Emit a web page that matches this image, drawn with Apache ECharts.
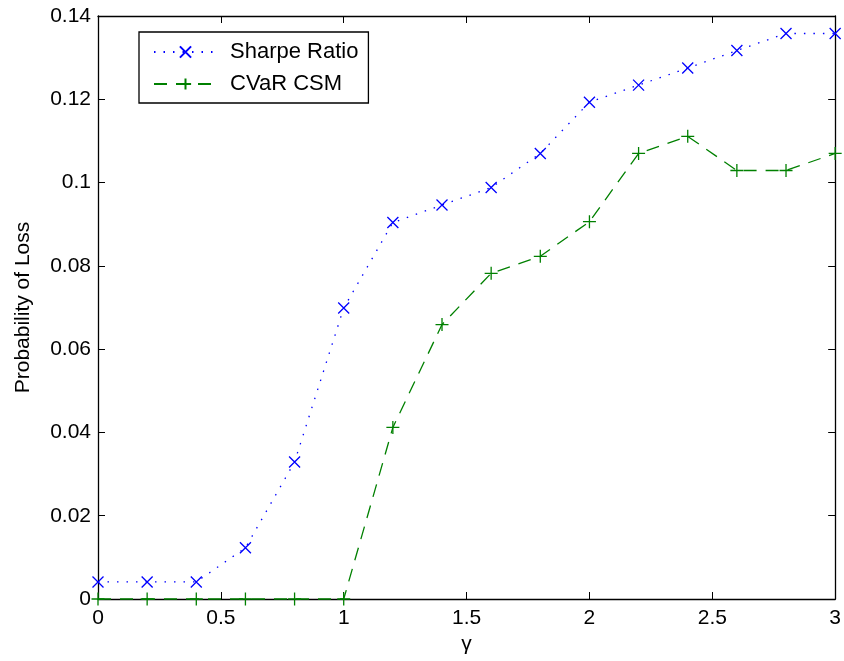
<!DOCTYPE html>
<html>
<head>
<meta charset="utf-8">
<script src="https://cdn.jsdelivr.net/npm/echarts@6/dist/echarts.min.js"></script>
<style>
html,body{margin:0;padding:0;background:#fff;}
#chart{width:844px;height:661px;}
</style>
</head>
<body>
<div id="chart"></div>
<script>
var gammaValues = [0, 0.2, 0.4, 0.6, 0.8, 1.0, 1.2, 1.4, 1.6, 1.8, 2.0, 2.2, 2.4, 2.6, 2.8, 3.0];
var sharpeRatio = [0.0041, 0.0041, 0.0041, 0.0123, 0.0329, 0.0699, 0.0904, 0.0946, 0.0988, 0.1070, 0.1193, 0.1234, 0.1275, 0.1317, 0.1358, 0.1358];
var cvarCSM =     [0, 0, 0, 0, 0, 0, 0.0412, 0.0659, 0.0782, 0.0823, 0.0906, 0.1070, 0.1111, 0.1029, 0.1029, 0.1070];
var seriesNames = ['Sharpe Ratio', 'CVaR CSM'];
var xLabel = 'γ';
var yLabel = 'Probability of Loss';

function pairs(xs, ys) { return xs.map(function (x, i) { return [x, ys[i]]; }); }

var font = 'Liberation Sans, Arial, Helvetica, sans-serif';
var chart = echarts.init(document.getElementById('chart'), null, {renderer: 'canvas'});
function axisLineStyle() { return {show: true, onZero: false, lineStyle: {color: '#000', width: 1.3}}; }
function tickStyle() { return {show: true, inside: true, length: 7, lineStyle: {color: '#000', width: 1}}; }

chart.setOption({
  animation: false,
  backgroundColor: '#fff',
  grid: {left: 98, right: 7, top: 16, bottom: 62, containLabel: false},
  legend: {
    left: 139, top: 32,
    orient: 'vertical',
    backgroundColor: '#fff',
    borderColor: '#000', borderWidth: 1.3,
    padding: [9, 10, 8, 14],
    itemWidth: 63, itemHeight: 14, itemGap: 10,
    textStyle: {fontFamily: font, fontSize: 22, color: '#000', lineHeight: 22, padding: [0, 0, 0, 8]},
    data: seriesNames
  },
  xAxis: [
    {type: 'value', min: 0, max: 3, interval: 0.5, position: 'bottom',
     name: xLabel, nameLocation: 'middle', nameGap: 28,
     nameTextStyle: {fontFamily: font, fontSize: 21, color: '#000'},
     axisLine: axisLineStyle(), axisTick: tickStyle(), splitLine: {show: false},
     axisLabel: {fontFamily: font, fontSize: 21, color: '#000', margin: 9}},
    {type: 'value', min: 0, max: 3, interval: 0.5, position: 'top',
     axisLine: axisLineStyle(), axisTick: tickStyle(), splitLine: {show: false},
     axisLabel: {show: false}}
  ],
  yAxis: [
    {type: 'value', min: 0, max: 0.14, interval: 0.02, position: 'left',
     name: yLabel, nameLocation: 'middle', nameGap: 64,
     nameTextStyle: {fontFamily: font, fontSize: 21, color: '#000'},
     axisLine: axisLineStyle(), axisTick: tickStyle(), splitLine: {show: false},
     axisLabel: {fontFamily: font, fontSize: 21, color: '#000', margin: 7}},
    {type: 'value', min: 0, max: 0.14, interval: 0.02, position: 'right',
     axisLine: axisLineStyle(), axisTick: tickStyle(), splitLine: {show: false},
     axisLabel: {show: false}}
  ],
  series: [
    {name: seriesNames[0], type: 'line', data: pairs(gammaValues, sharpeRatio),
     clip: false, z: 3,
     symbol: 'path://M0,0L10,10M10,0L0,10', symbolSize: 11, showAllSymbol: true,
     lineStyle: {color: '#0000ff', width: 1.3, type: [1.5, 8]},
     itemStyle: {color: 'none', borderColor: '#0000ff', borderWidth: 1.3}},
    {name: seriesNames[1], type: 'line', data: pairs(gammaValues, cvarCSM),
     clip: false, z: 3,
     symbol: 'path://M5,0L5,10M0,5L10,5', symbolSize: 13, showAllSymbol: true,
     lineStyle: {color: '#008000', width: 1.3, type: [13, 9]},
     itemStyle: {color: 'none', borderColor: '#008000', borderWidth: 1.3}}
  ]
});
</script>
</body>
</html>
